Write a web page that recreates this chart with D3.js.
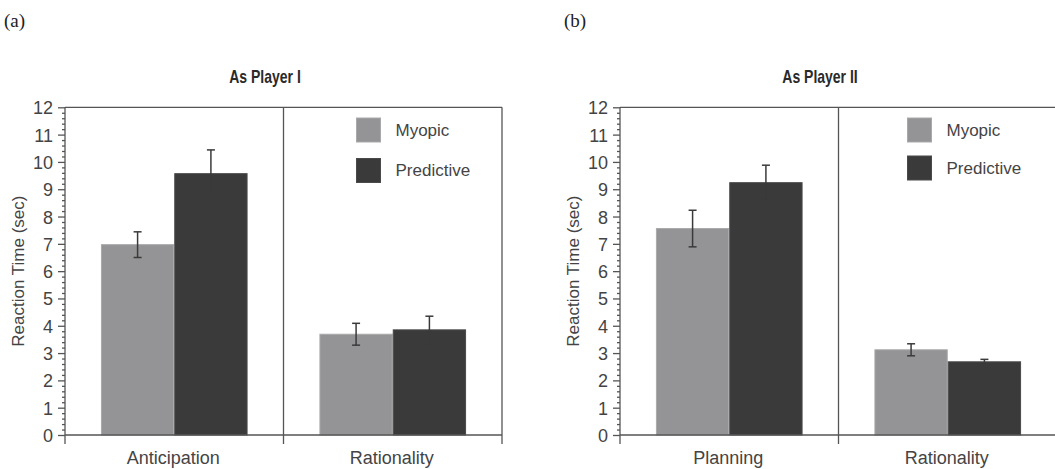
<!DOCTYPE html>
<html>
<head>
<meta charset="utf-8">
<script src="https://cdnjs.cloudflare.com/ajax/libs/d3/7.8.5/d3.min.js"></script>
<style>
  body { margin: 0; background: #fff; }
  svg { display: block; overflow: hidden; }
  .axis path, .axis line { stroke: #555; stroke-width: 1.3; }
  .axis text { font-family: "Liberation Sans", Arial, sans-serif; fill: #444; }
</style>
</head>
<body>
<div id="chart"></div>
<script>
const W = 1055, H = 469;

const series = ["Myopic", "Predictive"];
const yTicks = d3.range(0, 13);

// panel (a)
const categoriesA = ["Anticipation", "Rationality"];
const myopicA = [6.97, 3.69];
const myopicErrA = [0.47, 0.40];
const predictiveA = [9.57, 3.85];
const predictiveErrA = [0.87, 0.50];

// panel (b)
const categoriesB = ["Planning", "Rationality"];
const myopicB = [7.56, 3.12];
const myopicErrB = [0.67, 0.22];
const predictiveB = [9.24, 2.68];
const predictiveErrB = [0.64, 0.09];

const colors = {Myopic: "#949496", Predictive: "#3a3a3a"};
const edges = {Myopic: "#a9a9ab", Predictive: "#4a4a4a"};

const PLOT_TOP = 107.3, PLOT_BOTTOM = 435;
const CAT_WIDTH = 218.5;

const svg = d3.select("#chart").append("svg")
    .attr("width", W)
    .attr("height", H);

const y = d3.scaleLinear().domain([0, 12]).range([PLOT_BOTTOM, PLOT_TOP]);

const drawPanel = (cfg) => {
    const g = svg.append("g").attr("class", "panel");
    const x0 = cfg.x0;
    const x1 = x0 + CAT_WIDTH * cfg.categories.length;

    const x = d3.scaleBand()
        .domain(cfg.categories)
        .range([x0, x1])
        .paddingInner(0)
        .paddingOuter(0);

    const xs = d3.scaleBand()
        .domain(series)
        .range([0, x.bandwidth()])
        .paddingInner(0)
        .paddingOuter(0.49);

    // panel letter
    svg.append("text")
        .attr("x", cfg.letterX)
        .attr("y", 27)
        .attr("font-family", "'Liberation Serif', 'Times New Roman', serif")
        .attr("font-size", 19)
        .attr("fill", "#222")
        .text(cfg.letter);

    // title
    g.append("text")
        .attr("transform", "translate(" + (x0 + 200) + ",83) scale(1,1.25)")
        .attr("text-anchor", "middle")
        .attr("font-family", "'Liberation Sans', Arial, sans-serif")
        .attr("font-weight", "bold")
        .attr("font-size", 14)
        .attr("fill", "#2a2a2a")
        .text(cfg.title);

    // frame: top line and category dividers (extend below as ticks)
    g.append("line")
        .attr("x1", x0).attr("x2", x1)
        .attr("y1", PLOT_TOP).attr("y2", PLOT_TOP)
        .attr("stroke", "#555").attr("stroke-width", 1.3);

    const bounds = cfg.categories.map(c => x(c) + x.bandwidth());
    g.selectAll("line.divider")
        .data(bounds)
        .enter()
        .append("line")
        .attr("class", "divider")
        .attr("x1", d => d).attr("x2", d => d)
        .attr("y1", PLOT_TOP).attr("y2", PLOT_BOTTOM + 9)
        .attr("stroke", "#555").attr("stroke-width", 1.3);

    // bars
    const rows = [];
    cfg.categories.forEach((c, i) => {
        rows.push({cat: c, s: "Myopic", v: cfg.myopic[i], e: cfg.myopicErr[i]});
        rows.push({cat: c, s: "Predictive", v: cfg.predictive[i], e: cfg.predictiveErr[i]});
    });

    g.selectAll("rect.bar")
        .data(rows)
        .enter()
        .append("rect")
        .attr("class", "bar")
        .attr("x", d => x(d.cat) + xs(d.s) + 0.5)
        .attr("y", d => y(d.v))
        .attr("width", xs.bandwidth() - 1)
        .attr("height", d => y(0) - y(d.v))
        .attr("fill", d => colors[d.s])
        .attr("stroke", d => edges[d.s])
        .attr("stroke-width", 1);

    // error bars
    const eg = g.selectAll("g.err")
        .data(rows)
        .enter()
        .append("g")
        .attr("class", "err")
        .attr("stroke", "#3a3a3a")
        .attr("stroke-width", 1.5);
    const cx = d => x(d.cat) + xs(d.s) + xs.bandwidth() / 2;
    eg.append("line")
        .attr("x1", cx).attr("x2", cx)
        .attr("y1", d => y(d.v - d.e)).attr("y2", d => y(d.v + d.e));
    eg.append("line")
        .attr("x1", d => cx(d) - 4).attr("x2", d => cx(d) + 4)
        .attr("y1", d => y(d.v + d.e)).attr("y2", d => y(d.v + d.e));
    eg.append("line")
        .attr("x1", d => cx(d) - 4).attr("x2", d => cx(d) + 4)
        .attr("y1", d => y(d.v - d.e)).attr("y2", d => y(d.v - d.e));

    // y axis minor ticks
    const minor = d3.range(0, 12.001, 0.2).filter(v => Math.abs(v - Math.round(v)) > 1e-6);
    g.append("g")
        .attr("class", "axis")
        .attr("transform", "translate(" + x0 + ",0)")
        .call(d3.axisLeft(y).tickValues(minor).tickSize(3).tickFormat(""))
        .call(a => a.select(".domain").remove())
        .selectAll("line").attr("stroke-width", 1);

    // y axis major ticks
    g.append("g")
        .attr("class", "axis")
        .attr("transform", "translate(" + x0 + ",0)")
        .call(d3.axisLeft(y).tickValues(yTicks).tickSize(7).tickPadding(5).tickSizeOuter(0).tickFormat(d3.format("d")))
        .call(a => a.select(".domain").remove())
        .call(a => a.selectAll("text").attr("font-size", 18).attr("dy", "0.36em"));

    g.append("line")
        .attr("x1", x0).attr("x2", x0)
        .attr("y1", PLOT_TOP).attr("y2", PLOT_BOTTOM + 9)
        .attr("stroke", "#555").attr("stroke-width", 1.3);

    // x axis baseline and labels
    g.append("line")
        .attr("x1", x0).attr("x2", x1)
        .attr("y1", PLOT_BOTTOM).attr("y2", PLOT_BOTTOM)
        .attr("stroke", "#555").attr("stroke-width", 1.3);

    g.selectAll("text.cat")
        .data(cfg.categories)
        .enter()
        .append("text")
        .attr("class", "cat")
        .attr("x", d => x(d) + x.bandwidth() / 2 - 1)
        .attr("y", 464)
        .attr("text-anchor", "middle")
        .attr("font-family", "'Liberation Sans', Arial, sans-serif")
        .attr("font-size", 18)
        .attr("fill", "#444")
        .text(d => d);

    // y label
    g.append("text")
        .attr("transform", "translate(" + (x0 - 41) + "," + ((PLOT_TOP + PLOT_BOTTOM) / 2) + ") rotate(-90)")
        .attr("text-anchor", "middle")
        .attr("font-family", "'Liberation Sans', Arial, sans-serif")
        .attr("font-size", 17)
        .attr("fill", "#444")
        .text("Reaction Time (sec)");

    // legend
    const lg = g.append("g")
        .attr("transform", "translate(" + (bounds[0] + cfg.legendDx) + ",118)");
    const items = lg.selectAll("g.item")
        .data(series)
        .enter()
        .append("g")
        .attr("class", "item")
        .attr("transform", (d, i) => "translate(0," + i * cfg.legendStep + ")");
    items.append("rect")
        .attr("width", 24).attr("height", 24)
        .attr("fill", d => colors[d])
        .attr("stroke", d => edges[d]);
    items.append("text")
        .attr("x", 39)
        .attr("y", 12)
        .attr("dy", "0.35em")
        .attr("font-family", "'Liberation Sans', Arial, sans-serif")
        .attr("font-size", 17)
        .attr("fill", "#444")
        .text(d => d);
};

drawPanel({
    x0: 65, letter: "(a)", letterX: 4, title: "As Player I",
    categories: categoriesA,
    myopic: myopicA, myopicErr: myopicErrA,
    predictive: predictiveA, predictiveErr: predictiveErrA,
    legendDx: 73, legendStep: 40.5
});

drawPanel({
    x0: 620, letter: "(b)", letterX: 564, title: "As Player II",
    categories: categoriesB,
    myopic: myopicB, myopicErr: myopicErrB,
    predictive: predictiveB, predictiveErr: predictiveErrB,
    legendDx: 69, legendStep: 38
});
</script>
</body>
</html>
